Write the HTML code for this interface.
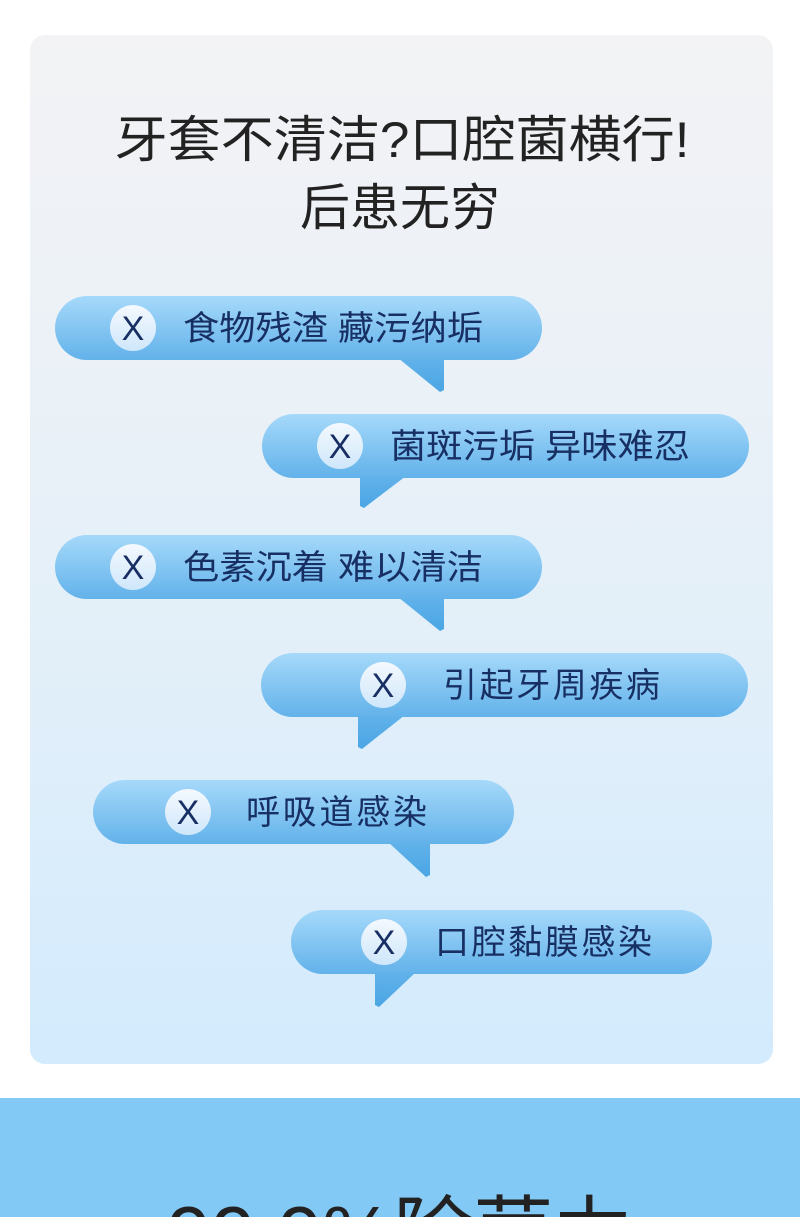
<!DOCTYPE html>
<html><head><meta charset="utf-8"><style>
html,body{margin:0;padding:0;background:#fff;width:800px;height:1217px;overflow:hidden;}
svg{display:block;}
text{font-family:"Liberation Sans","Noto Sans CJK SC",sans-serif;}
</style></head><body>
<svg width="800" height="1217" viewBox="0 0 800 1217" xmlns="http://www.w3.org/2000/svg" overflow="hidden">
<defs>
<linearGradient id="card" x1="0" y1="0" x2="0" y2="1">
<stop offset="0" stop-color="#f3f3f5"/><stop offset="0.5" stop-color="#e6f0f8"/><stop offset="1" stop-color="#d3ebfd"/></linearGradient>
<linearGradient id="bub" x1="0" y1="0" x2="0" y2="1">
<stop offset="0" stop-color="#a6d9fa"/><stop offset="1" stop-color="#62b2ea"/></linearGradient>
<linearGradient id="tail" x1="0" y1="0" x2="0" y2="1">
<stop offset="0" stop-color="#62b2ea"/><stop offset="1" stop-color="#4aa6e4"/></linearGradient>
<linearGradient id="circ" x1="0" y1="0" x2="0" y2="1">
<stop offset="0" stop-color="#f4f9fe"/><stop offset="1" stop-color="#cfe7fb"/></linearGradient>
<clipPath id="clipB"><rect x="0" y="1098" width="800" height="119"/></clipPath>
</defs>
<rect x="30" y="35" width="743" height="1029" rx="15" fill="url(#card)"/>
<rect x="0" y="1098" width="800" height="119" fill="#82c9f5"/>
<text x="400" y="1262" font-size="80" text-anchor="middle" fill="#222" clip-path="url(#clipB)">99.9%除菌力</text>

<text x="402" y="157" font-size="50" text-anchor="middle" fill="#222" textLength="575" lengthAdjust="spacingAndGlyphs">牙套不清洁?口腔菌横行!</text>
<text x="400" y="225" font-size="50" text-anchor="middle" fill="#222">后患无穷</text>

<polygon points="398,358 444,358 444,390 440,392" fill="url(#tail)"/>
<rect x="55" y="296" width="487" height="64" rx="32" fill="url(#bub)"/>
<circle cx="133" cy="328" r="23" fill="url(#circ)"/>
<text x="133" y="340" font-size="34" text-anchor="middle" fill="#172f63">X</text>
<text x="183" y="340" font-size="34" fill="#172f63" textLength="300" lengthAdjust="spacingAndGlyphs">食物残渣 藏污纳垢</text>

<polygon points="360,476 406,476 364,508 360,506" fill="url(#tail)"/>
<rect x="262" y="414" width="487" height="64" rx="32" fill="url(#bub)"/>
<circle cx="340" cy="446" r="23" fill="url(#circ)"/>
<text x="340" y="458" font-size="34" text-anchor="middle" fill="#172f63">X</text>
<text x="390" y="458" font-size="34" fill="#172f63" textLength="300" lengthAdjust="spacingAndGlyphs">菌斑污垢 异味难忍</text>

<polygon points="398,597 444,597 444,629 440,631" fill="url(#tail)"/>
<rect x="55" y="535" width="487" height="64" rx="32" fill="url(#bub)"/>
<circle cx="133" cy="567" r="23" fill="url(#circ)"/>
<text x="133" y="579" font-size="34" text-anchor="middle" fill="#172f63">X</text>
<text x="183" y="579" font-size="34" fill="#172f63" textLength="300" lengthAdjust="spacingAndGlyphs">色素沉着 难以清洁</text>

<polygon points="358,715 405,715 362,749 358,747" fill="url(#tail)"/>
<rect x="261" y="653" width="487" height="64" rx="32" fill="url(#bub)"/>
<circle cx="383" cy="685" r="23" fill="url(#circ)"/>
<text x="383" y="697" font-size="34" text-anchor="middle" fill="#172f63">X</text>
<text x="443" y="697" font-size="34" fill="#172f63" textLength="217">引起牙周疾病</text>

<polygon points="388,842 430,842 430,875 426,877" fill="url(#tail)"/>
<rect x="93" y="780" width="421" height="64" rx="32" fill="url(#bub)"/>
<circle cx="188" cy="812" r="23" fill="url(#circ)"/>
<text x="188" y="824" font-size="34" text-anchor="middle" fill="#172f63">X</text>
<text x="246" y="824" font-size="34" fill="#172f63" textLength="181">呼吸道感染</text>

<polygon points="375,972 416,972 379,1007 375,1005" fill="url(#tail)"/>
<rect x="291" y="910" width="421" height="64" rx="32" fill="url(#bub)"/>
<circle cx="384" cy="942" r="23" fill="url(#circ)"/>
<text x="384" y="954" font-size="34" text-anchor="middle" fill="#172f63">X</text>
<text x="435" y="954" font-size="34" fill="#172f63" textLength="217">口腔黏膜感染</text>
</svg>
</body></html>
